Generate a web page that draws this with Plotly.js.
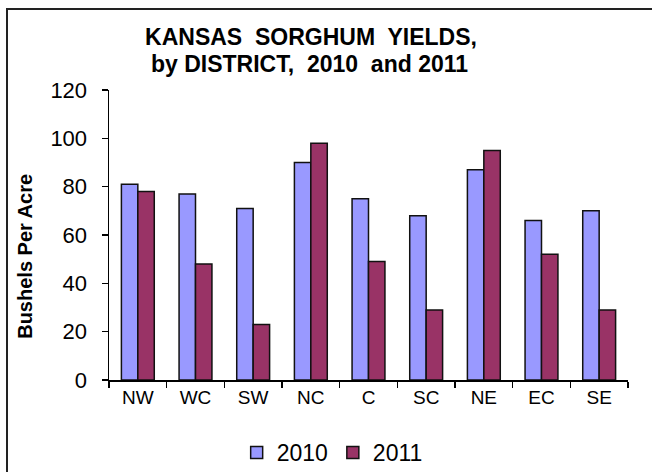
<!DOCTYPE html>
<html>
<head>
<meta charset="utf-8">
<script src="https://cdn.plot.ly/plotly-3.0.1.min.js"></script>
<style>
html,body{margin:0;padding:0;background:#fff;overflow:hidden;}
#frame{position:absolute;left:6px;top:8px;width:700px;height:500px;border-left:2px solid #222;border-top:2px solid #222;}
#chart{position:absolute;left:0;top:0;width:652px;height:472px;}
</style>
</head>
<body>
<div id="frame"></div>
<div id="chart"></div>
<script>
const districts = ["NW","WC","SW","NC","C","SC","NE","EC","SE"];
const yields2010 = [81,77,71,90,75,68,87,66,70];
const yields2011 = [78,48,23,98,49,29,95,52,29];
const seriesNames = ["2010","2011"];
const titleLine1 = "KANSAS\u00a0 SORGHUM\u00a0 YIELDS,";
const titleLine2 = "by DISTRICT,\u00a0 2010\u00a0 and 2011";
const yTitle = "Bushels Per Acre";

const traces = [
  {type:"bar", name:seriesNames[0], x:districts, y:yields2010,
   marker:{color:"#9999FF", line:{color:"#111", width:1.5}}},
  {type:"bar", name:seriesNames[1], x:districts, y:yields2011,
   marker:{color:"#993366", line:{color:"#111", width:1.5}}}
];

const layout = {
  width:652, height:472,
  paper_bgcolor:"rgba(0,0,0,0)", plot_bgcolor:"rgba(0,0,0,0)",
  margin:{l:109, r:24, t:90, b:92, autoexpand:false},
  barmode:"group", bargap:0.43, bargroupgap:0,
  font:{family:"Liberation Sans, Arial, sans-serif", color:"#000"},
  title:{text:"<b>"+titleLine1+"</b>",
         font:{size:23, color:"#000"},
         x:0.477, xanchor:"center", yref:"container", y:0.922, yanchor:"middle"},
  xaxis:{type:"category", showline:true, linecolor:"#000", linewidth:1.5,
         ticks:"outside", tickson:"boundaries", ticklen:6, tickcolor:"#000", tickwidth:1.5,
         tickfont:{size:19}, showgrid:false, zeroline:false},
  yaxis:{range:[0,120], dtick:20, showline:true, linecolor:"#000", linewidth:1.5,
         ticks:"outside", ticklen:6, tickcolor:"#000", tickwidth:1.5,
         ticklabelstandoff:10,
         tickfont:{size:22}, showgrid:false, zeroline:false},
  annotations:[
    {text:"<b>"+titleLine2+"</b>", xref:"paper", yref:"paper",
     x:0.387, y:1.088, xanchor:"center", yanchor:"middle", showarrow:false,
     font:{size:23}},
    {text:"<b>"+yTitle+"</b>", textangle:-90, xref:"paper", yref:"paper",
     x:-0.162, y:0.428, xanchor:"center", yanchor:"middle", showarrow:false,
     font:{size:20}}],
  legend:{orientation:"h", x:0.43, xanchor:"center", y:-0.25, yanchor:"middle",
          font:{size:23}, itemwidth:30, traceorder:"normal"},
  showlegend:true
};

Plotly.newPlot("chart", traces, layout, {displayModeBar:false, staticPlot:true});
</script>
</body>
</html>
